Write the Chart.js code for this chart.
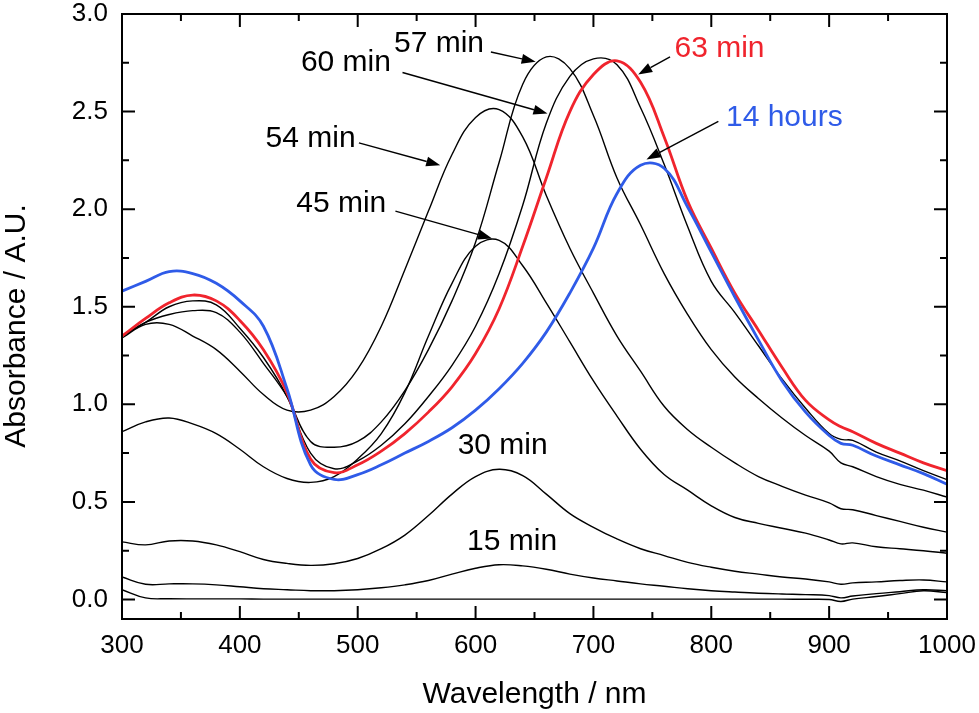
<!DOCTYPE html>
<html>
<head>
<meta charset="utf-8">
<script src="https://cdn.jsdelivr.net/npm/chart.js@4.4.1/dist/chart.umd.min.js"></script>
<style>
  html, body { margin: 0; padding: 0; background: #fff; }
  #wrap { width: 979px; height: 713px; position: relative; }
</style>
</head>
<body>
<div id="wrap"><canvas id="uvChart"></canvas></div>
<script>
// =====================
// Data
// =====================
const wavelength = [300,320,340,360,380,400,420,440,460,480,500,520,540,560,580,600,620,640,660,680,700,720,740,760,780,800,820,840,860,880,900,910,920,940,960,980,1000];

const abs0min  = [0.05,0.008,0.004,0.003,0.003,0.003,0.002,0.002,0.002,0.002,0.002,0.002,0.002,0.002,0.002,0.002,0.002,0.002,0.002,0.002,0.002,0.002,0.002,0.002,0.002,0.002,0.002,0.002,0.002,0.001,0.0,-0.01,0.002,0.015,0.03,0.045,0.035];
const abs15min = [0.115,0.078,0.08,0.08,0.075,0.065,0.055,0.05,0.045,0.045,0.05,0.06,0.075,0.097,0.13,0.16,0.178,0.172,0.155,0.13,0.11,0.095,0.08,0.068,0.055,0.045,0.038,0.032,0.028,0.025,0.02,0.008,0.018,0.03,0.04,0.05,0.045];
const abs30min = [0.295,0.28,0.30,0.30,0.28,0.245,0.205,0.185,0.175,0.183,0.21,0.26,0.33,0.43,0.54,0.63,0.667,0.635,0.54,0.44,0.37,0.31,0.26,0.225,0.19,0.165,0.145,0.13,0.115,0.105,0.09,0.078,0.085,0.09,0.097,0.10,0.09];
const abs45min = [0.86,0.91,0.93,0.90,0.85,0.77,0.68,0.62,0.60,0.63,0.72,0.85,1.06,1.35,1.62,1.81,1.84,1.71,1.52,1.32,1.12,0.94,0.77,0.64,0.56,0.48,0.42,0.39,0.365,0.34,0.305,0.285,0.29,0.27,0.26,0.25,0.237];
const abs54min = [1.34,1.41,1.41,1.35,1.28,1.17,1.05,0.97,0.97,1.04,1.18,1.40,1.69,1.99,2.28,2.47,2.51,2.37,2.07,1.80,1.57,1.35,1.17,0.99,0.87,0.78,0.70,0.63,0.58,0.535,0.495,0.465,0.46,0.43,0.40,0.37,0.345];
const abs57min = [1.35,1.42,1.46,1.48,1.47,1.37,1.21,1.04,0.81,0.78,0.81,0.91,1.07,1.28,1.53,1.83,2.24,2.64,2.78,2.72,2.48,2.16,1.92,1.67,1.46,1.28,1.14,1.03,0.93,0.84,0.76,0.70,0.68,0.63,0.59,0.56,0.525];
const abs60min = [1.35,1.42,1.50,1.53,1.51,1.39,1.24,1.04,0.75,0.67,0.71,0.79,0.90,1.04,1.20,1.40,1.67,2.02,2.44,2.68,2.77,2.74,2.52,2.23,1.91,1.63,1.47,1.30,1.13,0.98,0.85,0.82,0.815,0.755,0.71,0.66,0.614];
const abs63min = [1.35,1.44,1.52,1.56,1.53,1.43,1.28,1.06,0.72,0.65,0.69,0.76,0.85,0.96,1.09,1.26,1.49,1.81,2.16,2.50,2.69,2.76,2.65,2.37,2.04,1.80,1.57,1.38,1.19,1.02,0.92,0.885,0.86,0.80,0.75,0.70,0.66];
const abs14h    = [1.58,1.63,1.68,1.67,1.62,1.53,1.40,1.08,0.69,0.615,0.64,0.69,0.75,0.81,0.88,0.97,1.08,1.21,1.37,1.57,1.80,2.08,2.225,2.21,2.01,1.78,1.55,1.33,1.12,0.96,0.84,0.80,0.79,0.735,0.69,0.645,0.59];

const xMajorTicks = [300,400,500,600,700,800,900,1000];
const xMinorTicks = [350,450,550,650,750,850,950];
const yMajorTicks = [0,0.5,1.0,1.5,2.0,2.5,3.0];
const yMinorTicks = [0.25,0.75,1.25,1.75,2.25,2.75];

const FONT = 'Arial, "Liberation Sans", sans-serif';
const RED = '#f0242d';
const BLUE = '#2f5be8';

const series = [
    { label: '0 min',    values: abs0min,  color: '#000', width: 1.4, order: 2 },
    { label: '15 min',   values: abs15min, color: '#000', width: 1.4, order: 2 },
    { label: '30 min',   values: abs30min, color: '#000', width: 1.4, order: 2 },
    { label: '45 min',   values: abs45min, color: '#000', width: 1.4, order: 2 },
    { label: '54 min',   values: abs54min, color: '#000', width: 1.4, order: 2 },
    { label: '57 min',   values: abs57min, color: '#000', width: 1.4, order: 2 },
    { label: '60 min',   values: abs60min, color: '#000', width: 1.4, order: 2 },
    { label: '63 min',   values: abs63min, color: RED,    width: 2.8, order: 1 },
    { label: '14 hours', values: abs14h,   color: BLUE,   width: 2.8, order: 0 }
];

// curve labels, placed in data coordinates; arrow goes [from, tip]
const curveLabels = [
    { text: '57 min',   x: 569, y: 2.85, color: '#000', arrow: [[613, 2.805], [651, 2.755]] },
    { text: '60 min',   x: 490, y: 2.75, color: '#000', arrow: [[538, 2.70], [661, 2.49]] },
    { text: '54 min',   x: 460, y: 2.36, color: '#000', arrow: [[501, 2.34], [570, 2.225]] },
    { text: '45 min',   x: 486, y: 2.03, color: '#000', arrow: [[532, 1.99], [614, 1.85]] },
    { text: '63 min',   x: 807, y: 2.82, color: RED,    arrow: [[765, 2.78], [738, 2.69]] },
    { text: '14 hours', x: 862, y: 2.47, color: BLUE,   arrow: [[806, 2.45], [745, 2.255]] },
    { text: '30 min',   x: 623, y: 0.79, color: '#000' },
    { text: '15 min',   x: 631, y: 0.295, color: '#000' }
];

// =====================
// Plugins: frame with inward ticks, axis titles, labels
// =====================
const framePlugin = {
    id: 'frame',
    afterDraw(chart) {
        const { ctx, chartArea: a, scales: { x, y } } = chart;
        ctx.save();
        ctx.strokeStyle = '#000';
        ctx.lineWidth = 2;
        ctx.strokeRect(a.left, a.top, a.right - a.left, a.bottom - a.top);
        ctx.beginPath();
        const tickX = (vals, len) => {
            vals.forEach(v => {
                const px = x.getPixelForValue(v);
                ctx.moveTo(px, a.bottom); ctx.lineTo(px, a.bottom - len);
                ctx.moveTo(px, a.top); ctx.lineTo(px, a.top + len);
            });
        };
        const tickY = (vals, len) => {
            vals.forEach(v => {
                const py = y.getPixelForValue(v);
                ctx.moveTo(a.left, py); ctx.lineTo(a.left + len, py);
                ctx.moveTo(a.right, py); ctx.lineTo(a.right - len, py);
            });
        };
        tickX(xMajorTicks, 13); tickX(xMinorTicks, 7);
        tickY(yMajorTicks, 13); tickY(yMinorTicks, 7);
        ctx.stroke();

        // axis titles
        ctx.fillStyle = '#000';
        ctx.font = '30px ' + FONT;
        ctx.textAlign = 'center';
        ctx.textBaseline = 'alphabetic';
        ctx.fillText('Wavelength / nm', (a.left + a.right) / 2, 703);
        ctx.translate(25, 326);
        ctx.rotate(-Math.PI / 2);
        ctx.fillText('Absorbance / A.U.', 0, 0);
        ctx.restore();
    }
};

const labelPlugin = {
    id: 'curveLabels',
    afterDatasetsDraw(chart) {
        const { ctx, scales: { x, y } } = chart;
        ctx.save();
        ctx.font = '30px ' + FONT;
        ctx.textAlign = 'center';
        ctx.textBaseline = 'middle';
        curveLabels.forEach(l => {
            ctx.fillStyle = l.color;
            ctx.fillText(l.text, x.getPixelForValue(l.x), y.getPixelForValue(l.y));
            if (!l.arrow) return;
            const x0 = x.getPixelForValue(l.arrow[0][0]), y0 = y.getPixelForValue(l.arrow[0][1]);
            const x1 = x.getPixelForValue(l.arrow[1][0]), y1 = y.getPixelForValue(l.arrow[1][1]);
            const ang = Math.atan2(y1 - y0, x1 - x0);
            const head = 14, half = 5;
            const bx = x1 - head * Math.cos(ang), by = y1 - head * Math.sin(ang);
            ctx.strokeStyle = '#000';
            ctx.fillStyle = '#000';
            ctx.lineWidth = 1.4;
            ctx.beginPath();
            ctx.moveTo(x0, y0); ctx.lineTo(bx, by);
            ctx.stroke();
            ctx.beginPath();
            ctx.moveTo(x1, y1);
            ctx.lineTo(bx + half * Math.sin(ang), by - half * Math.cos(ang));
            ctx.lineTo(bx - half * Math.sin(ang), by + half * Math.cos(ang));
            ctx.closePath();
            ctx.fill();
        });
        ctx.restore();
    }
};

// no extra room for overhanging tick labels, keep the plot box fixed
const noOverhang = s => {
    s.paddingLeft = 0; s.paddingRight = 0; s.paddingTop = 0; s.paddingBottom = 0;
};

// =====================
// Chart
// =====================
new Chart(document.getElementById('uvChart'), {
    type: 'line',
    data: {
        datasets: series.map(s => ({
            label: s.label,
            data: wavelength.map((w, i) => ({ x: w, y: s.values[i] })),
            borderColor: s.color,
            borderWidth: s.width,
            pointRadius: 0,
            fill: false,
            tension: 0.4,
            order: s.order
        }))
    },
    options: {
        responsive: true,
        maintainAspectRatio: false,
        animation: false,
        events: [],
        layout: { padding: { top: 14, right: 32, left: 0, bottom: 0 } },
        plugins: { legend: { display: false }, tooltip: { enabled: false } },
        scales: {
            x: {
                type: 'linear', min: 300, max: 1000,
                grid: { display: false, drawTicks: false },
                border: { display: false },
                afterBuildTicks: s => { s.ticks = xMajorTicks.map(v => ({ value: v })); },
                afterFit: s => { s.height = 94; noOverhang(s); },
                ticks: { autoSkip: false, maxRotation: 0, padding: 11, color: '#000',
                         font: { family: FONT, size: 26 }, callback: v => v }
            },
            y: {
                type: 'linear', min: -0.1, max: 3.0,
                grid: { display: false, drawTicks: false },
                border: { display: false },
                afterBuildTicks: s => { s.ticks = yMajorTicks.map(v => ({ value: v })); },
                afterFit: s => { s.width = 122; noOverhang(s); },
                ticks: { autoSkip: false, padding: 14, color: '#000',
                         font: { family: FONT, size: 26 }, callback: v => v.toFixed(1) }
            }
        }
    },
    plugins: [framePlugin, labelPlugin]
});
</script>
</body>
</html>
